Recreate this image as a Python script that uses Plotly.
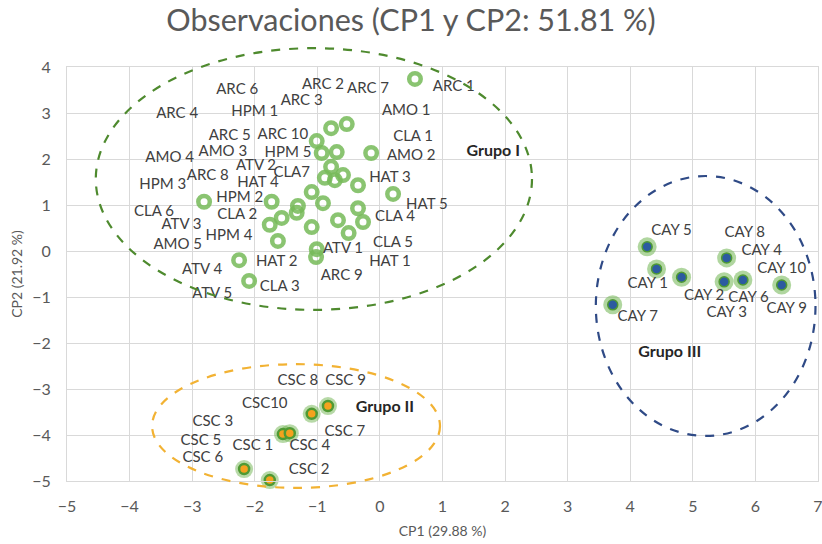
import plotly.graph_objects as go

# ---------------- data ----------------
# Grupo I (open green rings)
g1_x = [0.56, -0.53, -0.78, -1.01, -0.93, -0.69, -0.14, -0.78, -0.88, -0.72,
        -0.59, -0.35, 0.21, -1.09, -0.91, -1.31, -1.33, -1.57, -1.73, -1.76,
        -1.63, -1.09, -0.35, -0.67, -0.27, -0.50, -1.01, -1.02, -2.81, -2.25,
        -2.09]
g1_y = [3.74, 2.76, 2.67, 2.39, 2.13, 2.15, 2.13, 1.83, 1.59, 1.54,
        1.65, 1.43, 1.24, 1.28, 1.04, 0.98, 0.83, 0.72, 1.07, 0.57,
        0.22, 0.52, 0.93, 0.67, 0.63, 0.39, 0.04, -0.13, 1.07, -0.20,
        -0.65]
g1_labels = ["ARC 1", "ARC 2", "ARC 7", "ARC 3", "AMO 1", "CLA 1", "AMO 2", "ARC 6",
             "HPM 1", "ARC 4", "ARC 5", "ARC 10", "AMO 4", "AMO 3", "HPM 5", "ATV 2",
             "CLA7", "HPM 3", "ARC 8", "HAT 4", "HAT 3", "HAT 5", "HPM 2", "CLA 6",
             "CLA 2", "ATV 3", "HPM 4", "AMO 5", "CLA 4", "CLA 5", "ATV 1", "HAT 1",
             "HAT 2", "ARC 9", "ATV 4", "ATV 5", "CLA 3"]
g1_lab_x = [1.18, -0.91, -0.19, -1.25, 0.42, 0.53, 0.50, -2.28,
            -2.00, -3.24, -2.40, -1.55, -3.36, -2.51, -1.47, -1.98,
            -1.41, -3.47, -2.75, -1.95, 0.16, 0.75, -2.24, -3.61,
            -2.28, -3.17, -2.41, -3.23, 0.24, 0.21, -0.59, 0.16,
            -1.65, -0.61, -2.84, -2.68, -1.60]
g1_lab_y = [3.57, 3.61, 3.52, 3.26, 3.04, 2.48, 2.07, 3.50,
            3.02, 2.98, 2.50, 2.52, 2.02, 2.15, 2.13, 1.84,
            1.70, 1.43, 1.63, 1.48, 1.59, 1.00, 1.15, 0.84,
            0.78, 0.56, 0.33, 0.13, 0.74, 0.17, 0.04, -0.24,
            -0.24, -0.54, -0.41, -0.93, -0.78]

# Grupo II (orange centres)
g2_x = [-0.83, -1.09, -1.55, -1.44, -2.17, -1.76]
g2_y = [-3.37, -3.54, -3.98, -3.96, -4.74, -4.98]
g2_labels = ["CSC 8", "CSC 9", "CSC10", "CSC 3", "CSC 7", "CSC 5", "CSC 1", "CSC 4",
             "CSC 6", "CSC 2"]
g2_lab_x = [-1.31, -0.55, -1.84, -2.67, -0.56, -2.86, -2.03, -1.12, -2.83, -1.13]
g2_lab_y = [-2.83, -2.83, -3.33, -3.72, -3.93, -4.14, -4.24, -4.24, -4.51, -4.76]

# Grupo III (blue centres)
g3_x = [4.27, 4.42, 4.82, 5.54, 5.50, 5.80, 6.42, 3.72]
g3_y = [0.09, -0.39, -0.57, -0.15, -0.67, -0.63, -0.74, -1.17]
g3_labels = ["CAY 5", "CAY 8", "CAY 4", "CAY 10", "CAY 1", "CAY 2", "CAY 6", "CAY 3",
             "CAY 9", "CAY 7"]
g3_lab_x = [4.66, 5.83, 6.10, 6.42, 4.28, 5.18, 5.89, 5.54, 6.50, 4.12]
g3_lab_y = [0.43, 0.39, 0.00, -0.39, -0.72, -0.98, -1.02, -1.35, -1.26, -1.43]

group_names = ["Grupo I", "Grupo II", "Grupo III"]
group_name_x = [1.81, 0.08, 4.63]
group_name_y = [2.15, -3.41, -2.22]

# ellipse bounds in data units: x0, x1, y0, y1
ell_bounds = [(-4.54, 2.43, -1.28, 4.41),
              (-3.64, 0.96, -5.15, -2.46),
              (3.45, 6.96, -4.02, 1.63)]
ell_colors = ["#4E8A2E", "#F2B233", "#2F4A86"]

x_range = [-5, 7]
y_range = [-5, 4]

# ---------------- figure ----------------
FONT = "Lato"
GREEN = "rgba(118,186,88,0.85)"
fig = go.Figure()

fig.add_trace(go.Scatter(x=g1_x, y=g1_y, mode="markers", cliponaxis=False,
                         marker=dict(symbol="circle-open", size=11.5, color=GREEN,
                                     line=dict(width=4.5, color=GREEN))))

# group II: halo + centre
fig.add_trace(go.Scatter(x=g2_x, y=g2_y, mode="markers", cliponaxis=False,
                         marker=dict(size=18, color="rgba(112,180,80,0.5)", line=dict(width=0))))
fig.add_trace(go.Scatter(x=g2_x, y=g2_y, mode="markers", cliponaxis=False,
                         marker=dict(size=10, color="#F4A21E", line=dict(width=2.5, color="#4F9A33"))))

# group III: halo + centre
fig.add_trace(go.Scatter(x=g3_x, y=g3_y, mode="markers", cliponaxis=False,
                         marker=dict(size=19, color="rgba(112,180,80,0.55)", line=dict(width=0))))
fig.add_trace(go.Scatter(x=g3_x, y=g3_y, mode="markers", cliponaxis=False,
                         marker=dict(size=10, color="#2C5BA0", line=dict(width=1.5, color="#4F9A33"))))

label_font = dict(family=FONT, size=15, color="#404040")
for lx, ly, lt in [(g1_lab_x, g1_lab_y, g1_labels), (g2_lab_x, g2_lab_y, g2_labels),
                   (g3_lab_x, g3_lab_y, g3_labels)]:
    fig.add_trace(go.Scatter(x=lx, y=ly, text=lt, mode="text", cliponaxis=False,
                             textposition="middle center", textfont=label_font))

fig.add_trace(go.Scatter(x=group_name_x, y=group_name_y, text=group_names, mode="text",
                         cliponaxis=False, textposition="middle center",
                         textfont=dict(family=FONT, size=16, color="#262626", weight="bold")))

# ellipses converted to paper coordinates (so they are not clipped)
def to_px(v, r):
    return (v - r[0]) / (r[1] - r[0])

for (x0, x1, y0, y1), col in zip(ell_bounds, ell_colors):
    fig.add_shape(type="circle", xref="paper", yref="paper",
                  x0=to_px(x0, x_range), x1=to_px(x1, x_range),
                  y0=to_px(y0, y_range), y1=to_px(y1, y_range),
                  line=dict(color=col, width=2.2, dash="dash"), layer="above")

axis_common = dict(showgrid=True, gridcolor="#D9D9D9", gridwidth=1, zeroline=False,
                   showline=True, linecolor="#D9D9D9", linewidth=1, mirror=True,
                   ticks="", tickfont=dict(family=FONT, size=16, color="#595959"),
                   dtick=1, automargin=False, ticklabeloverflow="allow")

fig.update_layout(
    width=822, height=544,
    margin=dict(l=67, r=4, t=67, b=63),
    paper_bgcolor="white", plot_bgcolor="white",
    showlegend=False,
    title=dict(text="Observaciones (CP1 y CP2: 51.81 %)", x=0.5, xanchor="center",
               y=0.962, yanchor="middle",
               font=dict(family=FONT, size=30.5, color="#595959")),
    xaxis=dict(range=x_range, **axis_common, ticklabelstandoff=11,
               title=dict(text="CP1 (29.88 %)", standoff=11,
                          font=dict(family=FONT, size=14, color="#595959"))),
    yaxis=dict(range=y_range, **axis_common, ticklabelstandoff=12,
               title=dict(text="CP2 (21.92 %)", standoff=6,
                          font=dict(family=FONT, size=14, color="#595959"))),
)

fig.write_html("out.html", config={"displayModeBar": False},
               post_script="document.body.style.margin='0px';")
